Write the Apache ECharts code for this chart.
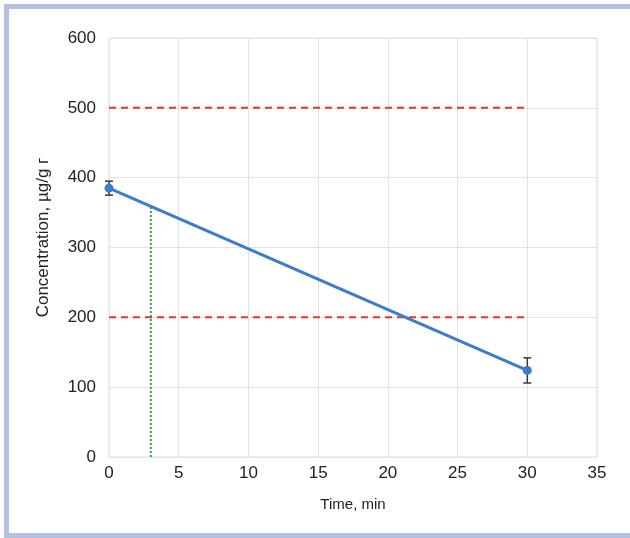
<!DOCTYPE html>
<html><head><meta charset="utf-8">
<script src="https://cdn.jsdelivr.net/npm/echarts@6/dist/echarts.min.js"></script>
<style>html,body{margin:0;padding:0;background:#fff}#c{width:630px;height:538px}</style>
</head><body><div id="c"></div>
<script>
const times = [0, 30];
const conc = [385, 124];
const errs = [10, 18];
const refLevels = [200, 500];
const refXRange = [0, 30];
const markerTime = 3;
const markerConc = 359;
const xTicks = [0, 5, 10, 15, 20, 25, 30, 35];

const chart = echarts.init(document.getElementById('c'), null, {renderer: 'canvas'});
const font = 'Liberation Sans, Arial, sans-serif';
const series = [];
refLevels.forEach(v => {
  series.push({type: 'line', data: refXRange.map(x => [x, v]), symbol: 'none',
    lineStyle: {color: '#e8352b', width: 2, type: [7, 5]}, z: 2, silent: true});
});
series.push({type: 'line', data: [[markerTime, 0], [markerTime, markerConc]], symbol: 'none',
  lineStyle: {color: '#2eaa3a', width: 2, type: [2, 2]}, z: 2, silent: true});
series.push({type: 'custom', z: 3,
  data: times.map((t, i) => [t, conc[i] - errs[i], conc[i] + errs[i]]),
  renderItem: function (params, api) {
    const lo = api.coord([api.value(0), api.value(1)]);
    const hi = api.coord([api.value(0), api.value(2)]);
    const w = 4;
    const st = {stroke: '#3a3a3a', lineWidth: 1.5};
    return {type: 'group', children: [
      {type: 'line', shape: {x1: lo[0], y1: lo[1], x2: hi[0], y2: hi[1]}, style: st},
      {type: 'line', shape: {x1: lo[0] - w, y1: lo[1], x2: lo[0] + w, y2: lo[1]}, style: st},
      {type: 'line', shape: {x1: hi[0] - w, y1: hi[1], x2: hi[0] + w, y2: hi[1]}, style: st}
    ]};
  }
});
series.push({type: 'line', data: times.map((t, i) => [t, conc[i]]), symbol: 'circle', symbolSize: 9,
  lineStyle: {color: '#3b7dc9', width: 3}, itemStyle: {color: '#3b7dc9'}, z: 4});

chart.setOption({
  animation: false,
  grid: {left: 109, right: 33, top: 38, bottom: 81},
  xAxis: {type: 'value', min: 0, max: 35, interval: 5,
    name: 'Time, min', nameLocation: 'middle', nameGap: 40,
    nameTextStyle: {color: '#222', fontSize: 15, fontFamily: font},
    axisLine: {show: false}, axisTick: {show: false},
    axisLabel: {color: '#222', fontSize: 17, fontFamily: font, margin: 8,
      formatter: v => xTicks.includes(v) ? String(v) : ''},
    splitLine: {show: true, lineStyle: {color: '#e3e3e3', width: 1}}},
  yAxis: {type: 'value', min: 0, max: 600, interval: 100,
    name: 'Concentration, µg/g г', nameLocation: 'middle', nameGap: 57,
    nameTextStyle: {color: '#222', fontSize: 17, fontFamily: font, padding: [0, 0, 0, 20]},
    axisLine: {show: false}, axisTick: {show: false},
    axisLabel: {color: '#222', fontSize: 17, fontFamily: font, margin: 13},
    splitLine: {show: true, lineStyle: {color: '#e3e3e3', width: 1}}},
  graphic: [
    {type: 'rect', shape: {x: 4, y: 4, width: 626, height: 5}, style: {fill: '#b4c1e2'}, silent: true},
    {type: 'rect', shape: {x: 4, y: 4, width: 5, height: 534}, style: {fill: '#b4c1e2'}, silent: true},
    {type: 'rect', shape: {x: 4, y: 533, width: 626, height: 5}, style: {fill: '#b4c1e2'}, silent: true},
    {type: 'rect', shape: {x: 109, y: 38, width: 488, height: 419}, style: {fill: 'none', stroke: '#e3e3e3', lineWidth: 1}, silent: true, z: -1}
  ],
  series: series
});
</script></body></html>
